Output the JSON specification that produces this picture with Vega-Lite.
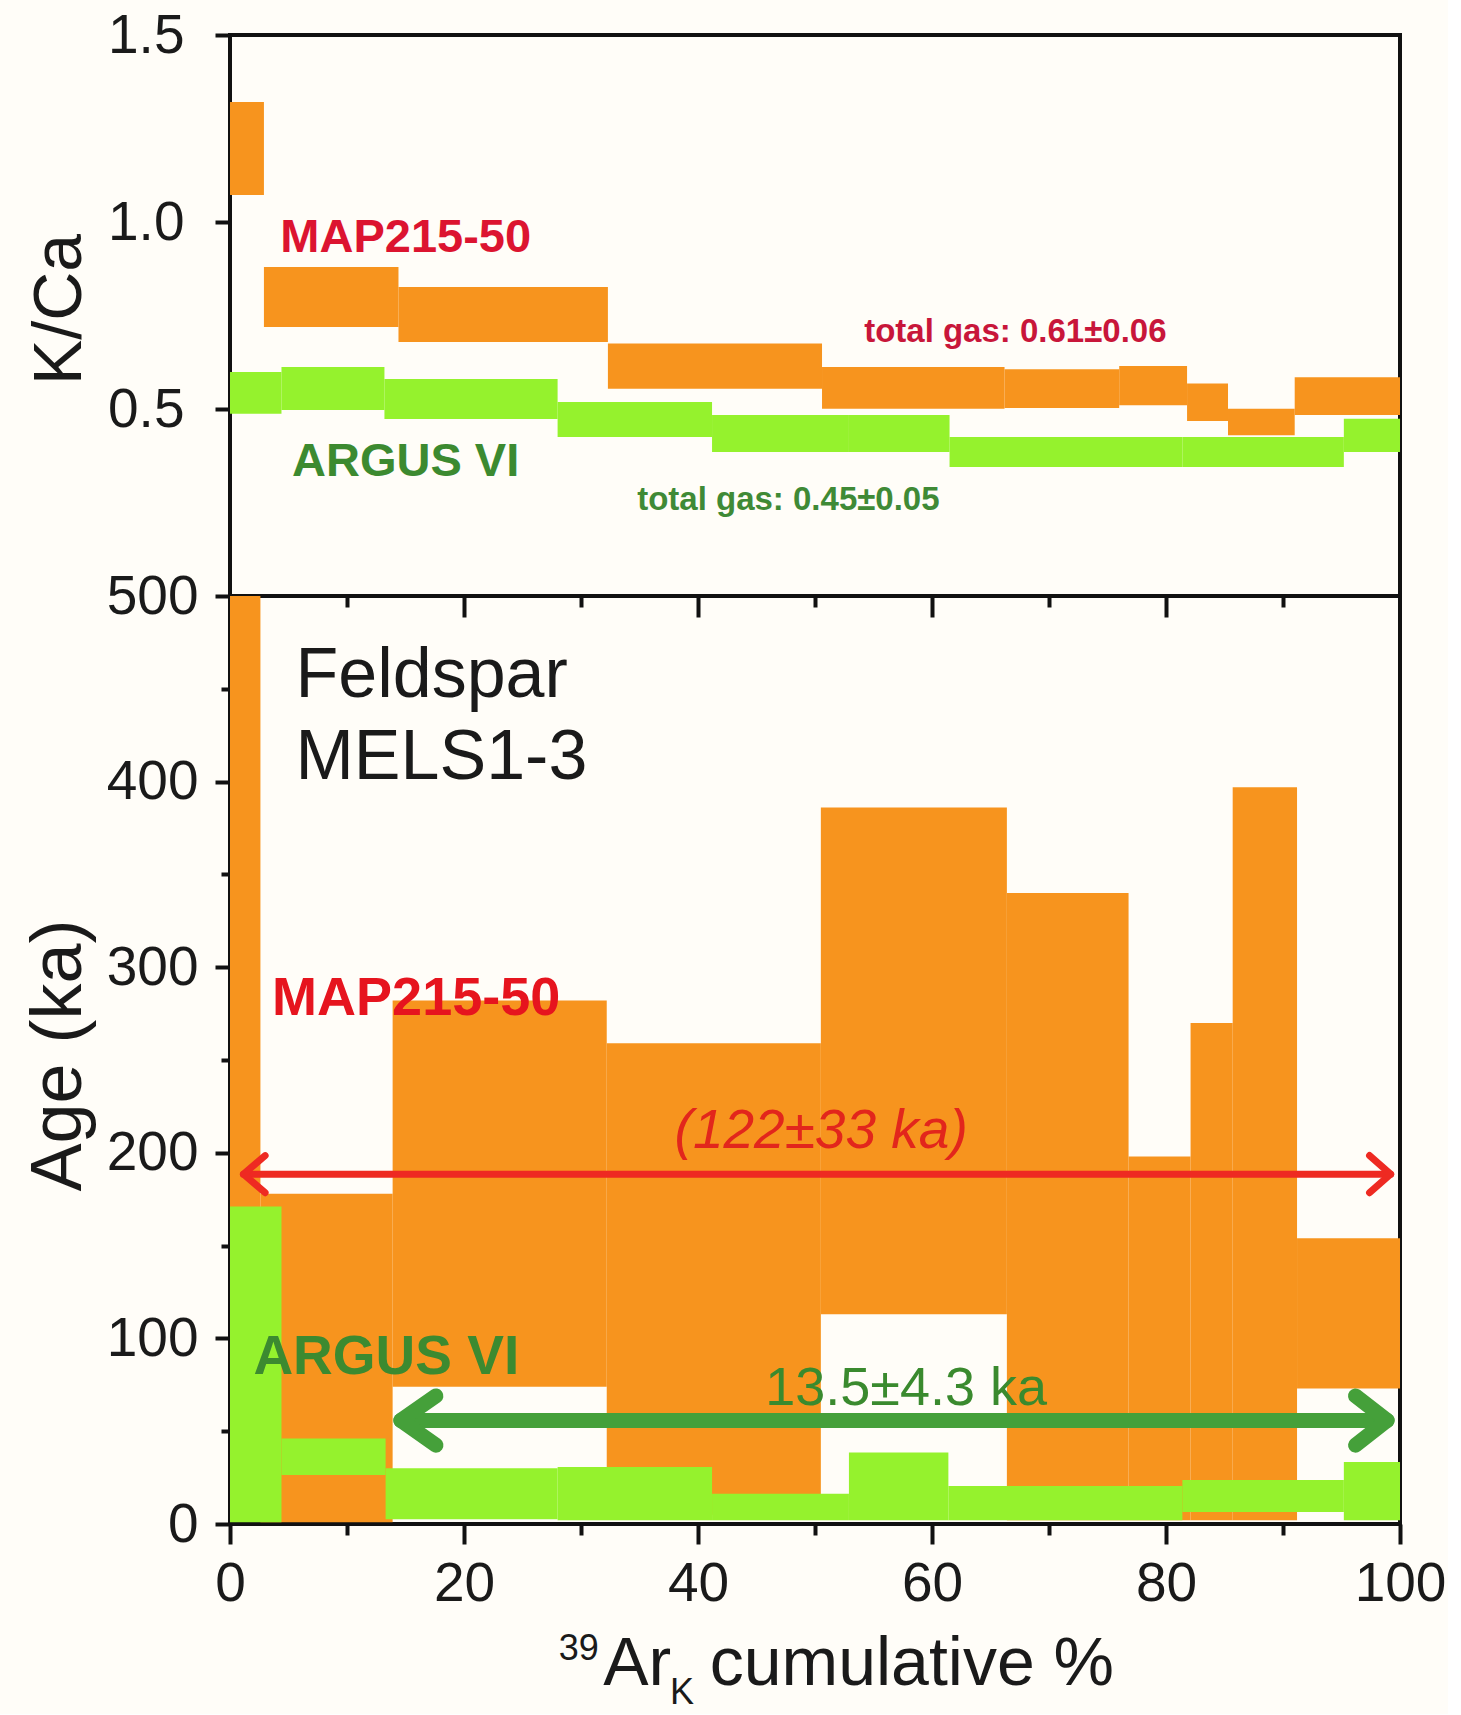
{
"$schema": "https://vega.github.io/schema/vega-lite/v6.json",
"background": "#fffdf8",
"padding": {"left": 20, "top": 6, "right": 0, "bottom": 0},
"spacing": 0,
"bounds": "flush",
"config": {
  "font": "Liberation Sans, sans-serif",
  "view": {"stroke": "#111111", "strokeWidth": 4, "fill": "#fffdf8"},
  "axis": {"labelFont": "Liberation Sans, sans-serif", "titleFont": "Liberation Sans, sans-serif", "labelColor": "#1a1a1a", "titleColor": "#1a1a1a", "tickColor": "#111111", "tickWidth": 4, "domain": false, "grid": false, "labelFontSize": 55, "titleFontWeight": "normal", "labelOverlap": false, "labelFlush": false}
},
"datasets": {
  "kcaBars": [
    {"series": "MAP215-50", "x0": 0, "x1": 2.9, "lo": 1.072, "hi": 1.321},
    {"series": "MAP215-50", "x0": 2.9, "x1": 14.4, "lo": 0.719, "hi": 0.88},
    {"series": "MAP215-50", "x0": 14.4, "x1": 32.3, "lo": 0.679, "hi": 0.826},
    {"series": "MAP215-50", "x0": 32.3, "x1": 50.6, "lo": 0.554, "hi": 0.675},
    {"series": "MAP215-50", "x0": 50.6, "x1": 66.2, "lo": 0.501, "hi": 0.612},
    {"series": "MAP215-50", "x0": 66.2, "x1": 76.0, "lo": 0.503, "hi": 0.606},
    {"series": "MAP215-50", "x0": 76.0, "x1": 81.8, "lo": 0.51, "hi": 0.615},
    {"series": "MAP215-50", "x0": 81.8, "x1": 85.3, "lo": 0.468, "hi": 0.568},
    {"series": "MAP215-50", "x0": 85.3, "x1": 91.0, "lo": 0.43, "hi": 0.501},
    {"series": "MAP215-50", "x0": 91.0, "x1": 100, "lo": 0.484, "hi": 0.585},
    {"series": "ARGUS VI", "x0": 0, "x1": 4.4, "lo": 0.487, "hi": 0.599},
    {"series": "ARGUS VI", "x0": 4.4, "x1": 13.2, "lo": 0.497, "hi": 0.612},
    {"series": "ARGUS VI", "x0": 13.2, "x1": 28.0, "lo": 0.473, "hi": 0.58},
    {"series": "ARGUS VI", "x0": 28.0, "x1": 41.2, "lo": 0.425, "hi": 0.519},
    {"series": "ARGUS VI", "x0": 41.2, "x1": 52.9, "lo": 0.385, "hi": 0.484},
    {"series": "ARGUS VI", "x0": 52.9, "x1": 61.5, "lo": 0.385, "hi": 0.484},
    {"series": "ARGUS VI", "x0": 61.5, "x1": 81.4, "lo": 0.345, "hi": 0.425},
    {"series": "ARGUS VI", "x0": 81.4, "x1": 95.2, "lo": 0.345, "hi": 0.425},
    {"series": "ARGUS VI", "x0": 95.2, "x1": 100, "lo": 0.385, "hi": 0.474}
  ],
  "ageBars": [
    {"series": "MAP215-50", "x0": 0, "x1": 2.6, "lo": 120, "hi": 700},
    {"series": "MAP215-50", "x0": 2.6, "x1": 13.9, "lo": 1, "hi": 178},
    {"series": "MAP215-50", "x0": 13.9, "x1": 32.2, "lo": 74, "hi": 282},
    {"series": "MAP215-50", "x0": 32.2, "x1": 50.5, "lo": 5, "hi": 259},
    {"series": "MAP215-50", "x0": 50.5, "x1": 66.4, "lo": 113, "hi": 386},
    {"series": "MAP215-50", "x0": 66.4, "x1": 76.8, "lo": 2, "hi": 340},
    {"series": "MAP215-50", "x0": 76.8, "x1": 82.1, "lo": 2, "hi": 198},
    {"series": "MAP215-50", "x0": 82.1, "x1": 85.7, "lo": 2, "hi": 270},
    {"series": "MAP215-50", "x0": 85.7, "x1": 91.2, "lo": 2, "hi": 397},
    {"series": "MAP215-50", "x0": 91.2, "x1": 100, "lo": 73, "hi": 154},
    {"series": "ARGUS VI", "x0": 0, "x1": 4.4, "lo": 1, "hi": 171},
    {"series": "ARGUS VI", "x0": 4.4, "x1": 13.3, "lo": 26.4, "hi": 46},
    {"series": "ARGUS VI", "x0": 13.3, "x1": 28.0, "lo": 2.5, "hi": 30},
    {"series": "ARGUS VI", "x0": 28.0, "x1": 41.2, "lo": 2, "hi": 30.7},
    {"series": "ARGUS VI", "x0": 41.2, "x1": 52.9, "lo": 2, "hi": 16.3},
    {"series": "ARGUS VI", "x0": 52.9, "x1": 61.4, "lo": 2, "hi": 38.5},
    {"series": "ARGUS VI", "x0": 61.4, "x1": 81.4, "lo": 2, "hi": 20.5},
    {"series": "ARGUS VI", "x0": 81.4, "x1": 95.2, "lo": 6.5, "hi": 23.7},
    {"series": "ARGUS VI", "x0": 95.2, "x1": 100, "lo": 2, "hi": 33.4}
  ],
  "arrows": [
    {"arrow": "red", "seg": "r-shaft", "i": 0, "x": 1.15, "y": 188.5},
    {"arrow": "red", "seg": "r-shaft", "i": 1, "x": 99.2, "y": 188.5},
    {"arrow": "red", "seg": "r-left", "i": 0, "x": 3.0, "y": 198.5},
    {"arrow": "red", "seg": "r-left", "i": 1, "x": 1.15, "y": 188.5},
    {"arrow": "red", "seg": "r-left", "i": 2, "x": 3.0, "y": 178.5},
    {"arrow": "red", "seg": "r-right", "i": 0, "x": 97.4, "y": 198.5},
    {"arrow": "red", "seg": "r-right", "i": 1, "x": 99.2, "y": 188.5},
    {"arrow": "red", "seg": "r-right", "i": 2, "x": 97.4, "y": 178.5},
    {"arrow": "green", "seg": "g-shaft", "i": 0, "x": 14.6, "y": 55.8},
    {"arrow": "green", "seg": "g-shaft", "i": 1, "x": 98.9, "y": 55.8},
    {"arrow": "green", "seg": "g-left", "i": 0, "x": 17.6, "y": 69},
    {"arrow": "green", "seg": "g-left", "i": 1, "x": 14.6, "y": 55.8},
    {"arrow": "green", "seg": "g-left", "i": 2, "x": 17.6, "y": 42.5},
    {"arrow": "green", "seg": "g-right", "i": 0, "x": 96.2, "y": 69},
    {"arrow": "green", "seg": "g-right", "i": 1, "x": 98.9, "y": 55.8},
    {"arrow": "green", "seg": "g-right", "i": 2, "x": 96.2, "y": 42.5}
  ],
  "kcaText": [
    {"kind": "redbold", "text": "MAP215-50", "x": 4.3, "y": 0.92},
    {"kind": "greenbold", "text": "ARGUS VI", "x": 5.3, "y": 0.32},
    {"kind": "redsmall", "text": "total gas: 0.61±0.06", "x": 54.2, "y": 0.679},
    {"kind": "greensmall", "text": "total gas: 0.45±0.05", "x": 34.8, "y": 0.23}
  ],
  "ageText": [
    {"kind": "black", "text": "Feldspar", "x": 5.6, "y": 445.7},
    {"kind": "black", "text": "MELS1-3", "x": 5.6, "y": 401.4},
    {"kind": "redbold", "text": "MAP215-50", "x": 3.6, "y": 274.5},
    {"kind": "greenbold", "text": "ARGUS VI", "x": 2.0, "y": 81},
    {"kind": "redital", "text": "(122±33 ka)", "x": 38.0, "y": 202.4},
    {"kind": "greenreg", "text": "13.5±4.3 ka", "x": 45.75, "y": 64},
    {"kind": "axbig", "text": "Ar", "x": 31.9, "y": -86.7},
    {"kind": "axbig", "text": "cumulative %", "x": 41.0, "y": -86.7},
    {"kind": "axsmall", "text": "39", "x": 28.1, "y": -73.3},
    {"kind": "axsmall", "text": "K", "x": 37.6, "y": -97}
  ]
},
"vconcat": [
  {
    "width": 1170,
    "height": 561,
    "resolve": {"axis": {"y": "independent"}},
    "layer": [
      {
        "data": {"name": "kcaBars"},
        "transform": [{"filter": "datum.series === 'MAP215-50'"}],
        "mark": {"type": "rect", "color": "#f7941e"},
        "encoding": {
          "x": {"field": "x0", "type": "quantitative", "scale": {"domain": [0, 100], "nice": false, "zero": false}, "axis": null},
          "x2": {"field": "x1"},
          "y": {"field": "lo", "type": "quantitative", "scale": {"domain": [0, 1.5], "nice": false, "zero": false},
                "axis": {"values": [0.5, 1, 1.5], "format": ".1f", "title": "K/Ca", "titleFontSize": 68, "titleX": -150, "titleY": 274, "titleBaseline": "alphabetic", "tickSize": 15, "labelPadding": 31}},
          "y2": {"field": "hi"}
        }
      },
      {
        "data": {"name": "kcaBars"},
        "transform": [{"filter": "datum.series === 'ARGUS VI'"}],
        "mark": {"type": "rect", "color": "#95f22d"},
        "encoding": {
          "x": {"field": "x0", "type": "quantitative", "scale": {"domain": [0, 100], "nice": false, "zero": false}, "axis": null},
          "x2": {"field": "x1"},
          "y": {"field": "lo", "type": "quantitative", "scale": {"domain": [0, 1.5], "nice": false, "zero": false}, "axis": null},
          "y2": {"field": "hi"}
        }
      },
      {
        "data": {"name": "kcaText"},
        "transform": [{"filter": "datum.kind === 'redbold'"}],
        "mark": {"type": "text", "align": "left", "baseline": "alphabetic", "fontSize": 47, "fontWeight": "bold", "color": "#dc1430"},
        "encoding": {
          "x": {"field": "x", "type": "quantitative", "scale": {"domain": [0, 100], "nice": false, "zero": false}, "axis": null},
          "y": {"field": "y", "type": "quantitative", "scale": {"domain": [0, 1.5], "nice": false, "zero": false}, "axis": null},
          "text": {"field": "text"}
        }
      },
      {
        "data": {"name": "kcaText"},
        "transform": [{"filter": "datum.kind === 'greenbold'"}],
        "mark": {"type": "text", "align": "left", "baseline": "alphabetic", "fontSize": 47, "fontWeight": "bold", "color": "#3c8a30"},
        "encoding": {
          "x": {"field": "x", "type": "quantitative", "scale": {"domain": [0, 100], "nice": false, "zero": false}, "axis": null},
          "y": {"field": "y", "type": "quantitative", "scale": {"domain": [0, 1.5], "nice": false, "zero": false}, "axis": null},
          "text": {"field": "text"}
        }
      },
      {
        "data": {"name": "kcaText"},
        "transform": [{"filter": "datum.kind === 'redsmall'"}],
        "mark": {"type": "text", "align": "left", "baseline": "alphabetic", "fontSize": 33, "fontWeight": "bold", "color": "#c8163a"},
        "encoding": {
          "x": {"field": "x", "type": "quantitative", "scale": {"domain": [0, 100], "nice": false, "zero": false}, "axis": null},
          "y": {"field": "y", "type": "quantitative", "scale": {"domain": [0, 1.5], "nice": false, "zero": false}, "axis": null},
          "text": {"field": "text"}
        }
      },
      {
        "data": {"name": "kcaText"},
        "transform": [{"filter": "datum.kind === 'greensmall'"}],
        "mark": {"type": "text", "align": "left", "baseline": "alphabetic", "fontSize": 33, "fontWeight": "bold", "color": "#3f8a36"},
        "encoding": {
          "x": {"field": "x", "type": "quantitative", "scale": {"domain": [0, 100], "nice": false, "zero": false}, "axis": null},
          "y": {"field": "y", "type": "quantitative", "scale": {"domain": [0, 1.5], "nice": false, "zero": false}, "axis": null},
          "text": {"field": "text"}
        }
      }
    ]
  },
  {
    "width": 1170,
    "height": 928,
    "resolve": {"axis": {"x": "independent", "y": "independent"}},
    "layer": [
      {
        "data": {"name": "ageBars"},
        "transform": [{"filter": "datum.series === 'MAP215-50'"}],
        "mark": {"type": "rect", "color": "#f7941e", "clip": true},
        "encoding": {
          "x": {"field": "x0", "type": "quantitative", "scale": {"domain": [0, 100], "nice": false, "zero": false},
                "axis": {"orient": "bottom", "values": [0, 10, 20, 30, 40, 50, 60, 70, 80, 90, 100], "labelExpr": "datum.value % 20 === 0 ? datum.label : ''", "tickSize": {"condition": {"test": "datum.value % 20 === 0", "value": 20}, "value": 11}, "labelPadding": 13, "title": null}},
          "x2": {"field": "x1"},
          "y": {"field": "lo", "type": "quantitative", "scale": {"domain": [0, 500], "nice": false, "zero": false},
                "axis": {"orient": "left", "values": [0, 50, 100, 150, 200, 250, 300, 350, 400, 450, 500], "labelExpr": "datum.value % 100 === 0 ? datum.label : ''", "tickSize": {"condition": {"test": "datum.value % 100 === 0", "value": 15}, "value": 9}, "labelPadding": 17, "title": "Age (ka)", "titleFontSize": 72, "titleX": -150, "titleY": 459, "titleBaseline": "alphabetic"}},
          "y2": {"field": "hi"}
        }
      },
      {
        "data": {"name": "ageBars"},
        "transform": [{"filter": "datum.series === 'ARGUS VI'"}],
        "mark": {"type": "rect", "color": "#95f22d"},
        "encoding": {
          "x": {"field": "x0", "type": "quantitative", "scale": {"domain": [0, 100], "nice": false, "zero": false},
                "axis": {"orient": "top", "values": [10, 20, 30, 40, 50, 60, 70, 80, 90], "labels": false, "tickSize": {"condition": {"test": "datum.value % 20 === 0", "value": -21}, "value": -11}, "title": null}},
          "x2": {"field": "x1"},
          "y": {"field": "lo", "type": "quantitative", "scale": {"domain": [0, 500], "nice": false, "zero": false}, "axis": null},
          "y2": {"field": "hi"}
        }
      },
      {
        "data": {"name": "arrows"},
        "transform": [{"filter": "datum.arrow === 'red'"}],
        "mark": {"type": "line", "color": "#ee2a22", "strokeWidth": 7, "strokeCap": "round", "strokeJoin": "round"},
        "encoding": {
          "x": {"field": "x", "type": "quantitative", "scale": {"domain": [0, 100], "nice": false, "zero": false}, "axis": null},
          "y": {"field": "y", "type": "quantitative", "scale": {"domain": [0, 500], "nice": false, "zero": false}, "axis": null},
          "detail": {"field": "seg"},
          "order": {"field": "i"}
        }
      },
      {
        "data": {"name": "arrows"},
        "transform": [{"filter": "datum.arrow === 'green'"}],
        "mark": {"type": "line", "color": "#45a03a", "strokeWidth": 15, "strokeCap": "round", "strokeJoin": "round"},
        "encoding": {
          "x": {"field": "x", "type": "quantitative", "scale": {"domain": [0, 100], "nice": false, "zero": false}, "axis": null},
          "y": {"field": "y", "type": "quantitative", "scale": {"domain": [0, 500], "nice": false, "zero": false}, "axis": null},
          "detail": {"field": "seg"},
          "order": {"field": "i"}
        }
      },
      {
        "data": {"name": "ageText"},
        "transform": [{"filter": "datum.kind === 'black'"}],
        "mark": {"type": "text", "align": "left", "baseline": "alphabetic", "fontSize": 70, "color": "#1a1a1a"},
        "encoding": {
          "x": {"field": "x", "type": "quantitative", "scale": {"domain": [0, 100], "nice": false, "zero": false}, "axis": null},
          "y": {"field": "y", "type": "quantitative", "scale": {"domain": [0, 500], "nice": false, "zero": false}, "axis": null},
          "text": {"field": "text"}
        }
      },
      {
        "data": {"name": "ageText"},
        "transform": [{"filter": "datum.kind === 'redbold'"}],
        "mark": {"type": "text", "align": "left", "baseline": "alphabetic", "fontSize": 54, "fontWeight": "bold", "color": "#e6141e"},
        "encoding": {
          "x": {"field": "x", "type": "quantitative", "scale": {"domain": [0, 100], "nice": false, "zero": false}, "axis": null},
          "y": {"field": "y", "type": "quantitative", "scale": {"domain": [0, 500], "nice": false, "zero": false}, "axis": null},
          "text": {"field": "text"}
        }
      },
      {
        "data": {"name": "ageText"},
        "transform": [{"filter": "datum.kind === 'greenbold'"}],
        "mark": {"type": "text", "align": "left", "baseline": "alphabetic", "fontSize": 55, "fontWeight": "bold", "color": "#3c8a30"},
        "encoding": {
          "x": {"field": "x", "type": "quantitative", "scale": {"domain": [0, 100], "nice": false, "zero": false}, "axis": null},
          "y": {"field": "y", "type": "quantitative", "scale": {"domain": [0, 500], "nice": false, "zero": false}, "axis": null},
          "text": {"field": "text"}
        }
      },
      {
        "data": {"name": "ageText"},
        "transform": [{"filter": "datum.kind === 'redital'"}],
        "mark": {"type": "text", "align": "left", "baseline": "alphabetic", "fontSize": 55, "fontStyle": "italic", "color": "#e2261c"},
        "encoding": {
          "x": {"field": "x", "type": "quantitative", "scale": {"domain": [0, 100], "nice": false, "zero": false}, "axis": null},
          "y": {"field": "y", "type": "quantitative", "scale": {"domain": [0, 500], "nice": false, "zero": false}, "axis": null},
          "text": {"field": "text"}
        }
      },
      {
        "data": {"name": "ageText"},
        "transform": [{"filter": "datum.kind === 'greenreg'"}],
        "mark": {"type": "text", "align": "left", "baseline": "alphabetic", "fontSize": 54, "color": "#3a8a2e"},
        "encoding": {
          "x": {"field": "x", "type": "quantitative", "scale": {"domain": [0, 100], "nice": false, "zero": false}, "axis": null},
          "y": {"field": "y", "type": "quantitative", "scale": {"domain": [0, 500], "nice": false, "zero": false}, "axis": null},
          "text": {"field": "text"}
        }
      },
      {
        "data": {"name": "ageText"},
        "transform": [{"filter": "datum.kind === 'axbig'"}],
        "mark": {"type": "text", "align": "left", "baseline": "alphabetic", "fontSize": 68, "color": "#1a1a1a"},
        "encoding": {
          "x": {"field": "x", "type": "quantitative", "scale": {"domain": [0, 100], "nice": false, "zero": false}, "axis": null},
          "y": {"field": "y", "type": "quantitative", "scale": {"domain": [0, 500], "nice": false, "zero": false}, "axis": null},
          "text": {"field": "text"}
        }
      },
      {
        "data": {"name": "ageText"},
        "transform": [{"filter": "datum.kind === 'axsmall'"}],
        "mark": {"type": "text", "align": "left", "baseline": "alphabetic", "fontSize": 36, "color": "#1a1a1a"},
        "encoding": {
          "x": {"field": "x", "type": "quantitative", "scale": {"domain": [0, 100], "nice": false, "zero": false}, "axis": null},
          "y": {"field": "y", "type": "quantitative", "scale": {"domain": [0, 500], "nice": false, "zero": false}, "axis": null},
          "text": {"field": "text"}
        }
      }
    ]
  }
]
}
